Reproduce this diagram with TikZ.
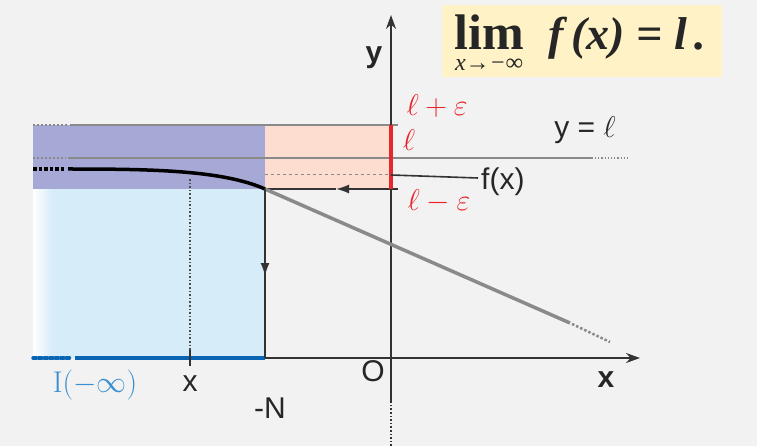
\documentclass[tikz,border=0pt]{standalone}
\usepackage{fix-cm}
\usepackage{fontspec}
\setsansfont{Liberation Sans}
\newfontfamily\timesfont{Liberation Serif}
\usepackage{tikz}
\usetikzlibrary{positioning, arrows.meta, calc}
\definecolor{bgray}{HTML}{F2F2F2}
\definecolor{band}{HTML}{A6A8D6}
\definecolor{peach}{HTML}{FCDDD0}
\definecolor{sky}{HTML}{D7ECF9}
\definecolor{iblue}{HTML}{0A64B4}
\definecolor{lblue}{HTML}{3A8FD0}
\definecolor{epsred}{HTML}{E8262C}
\definecolor{curvegray}{HTML}{8A8A8A}
\definecolor{boxyellow}{HTML}{FFF2C6}

\begin{document}
\begin{tikzpicture}[x=1pt, y=-1pt,
  axis/.style={draw=black!80, line width=1.6pt},
  guide/.style={draw=curvegray, line width=2pt},
  lbl/.style={font=\fontsize{30}{32}\selectfont\sffamily, text=black!85, inner sep=0pt},
  red lbl/.style={font=\fontsize{30}{32}\selectfont, text=epsred, inner sep=0pt},
  midtip/.style={-{Latex[length=13pt, width=9pt]}, axis},
  formula/.style={inner sep=0pt, text=black!85, font=\fontsize{50}{54}\selectfont\timesfont\bfseries}
]
  \useasboundingbox (0,0) rectangle (757,446);
  \fill[bgray] (0,0) rectangle (757,446);

  % points
  \coordinate (O)   at (391,358);
  \coordinate (N)   at (265,358);
  \coordinate (C)   at (265,189);
  \coordinate (top) at (391,125);
  \coordinate (bot) at (391,189);

  % regions
  \fill[sky]  (33,189) rectangle (C);
  \shade[left color=white, right color=sky] (33,189) rectangle (52,358);
  \fill[sky]  (52,189) rectangle (N);
  \fill[band] (33,125) rectangle (C);
  \fill[peach] (265,125) rectangle (bot);

  % band lines
  \draw[guide, dotted] (33,125) -- (68,125);
  \draw[guide] (70,125) -- (398,125);
  \draw[guide, dotted] (33,158) -- (66,158);
  \draw[guide] (68,158) -- (593,158);
  \draw[guide, line width=1.2pt, dotted] (595,158) -- (630,158);
  \draw[curvegray, dashed, line width=1pt] (265,175) -- (391,175);
  \draw[axis] (398,189) -- (340,189);
  \draw[midtip] (360,189) -- (336,189);
  \draw[axis] (336,189) -- (C);

  % axes
  \draw[axis, dotted] (391,446) -- (391,402);
  \draw[axis, -{Stealth[length=14pt, width=10pt]}] (391,402) -- (391,15);
  \draw[axis, -{Stealth[length=14pt, width=10pt]}] (N) -- (640,358);
  \draw[iblue, line width=3.5pt] (75,358) -- (N);
  \draw[iblue, line width=3.5pt, dotted, line cap=round] (33,358) -- (70,358);

  % function
  \draw[curvegray, line width=3.5pt] (C) -- (570,323);
  \draw[curvegray, line width=2.5pt, dotted] (572,324) -- (610,342);
  \draw[black, line width=3.5pt, dotted] (33,169) -- (64,169);
  \draw[black, line width=3.5pt] (68,169) .. controls (150,169) and (222,170) .. (C);

  % vertical guides
  \draw[axis] (C) -- (N);
  \draw[midtip] (265,250) -- (265,276);
  \draw[black!70, dotted, line width=1.6pt] (190,179) -- (190,352);
  \draw[black!80, line width=2pt] (190,350) -- (190,366);
  \draw[epsred, line width=4.5pt] (top) -- (bot);
  \draw[black!80, line width=1.6pt] (391,175) -- (478,178);

  % labels
  \node[lbl, font=\fontsize{30}{32}\selectfont\sffamily\bfseries] (ylab) at (374,58) {y};
  \node[lbl, font=\fontsize{30}{32}\selectfont\sffamily\bfseries] (xlab) at (606,380) {x};
  \node[lbl] (olab) at (373,371) {O};
  \node[lbl] (nlab) at (270,408) {-N};
  \node[lbl] (xpt)  at (190,384) {x};
  \node[lbl, text=lblue, font=\fontsize{30}{32}\selectfont] (ilab) at (95,385) {I$(-\infty)$};
  \node[lbl, anchor=west] (fx) at (481,182) {f(x)};
  \node[lbl] (yl) at (585,130) {y = $\ell$};
  \node[red lbl] (lpe) at (437,106) {$\ell+\varepsilon$};
  \node[red lbl] (lab) at (409,140) {$\ell$};
  \node[red lbl] (lme) at (439,201) {$\ell-\varepsilon$};

  % formula
  \fill[boxyellow] (442,5) rectangle (722,77);
  \node[formula, anchor=base] (limword) at (489,50) {lim};
  \node[formula, font=\fontsize{46}{50}\selectfont\timesfont\bfseries, anchor=base west] (fxeq) at (548,50) {\itshape f\,(x) = l\,.};
  \node[formula, font=\fontsize{24}{26}\selectfont\timesfont\itshape, below=9pt of limword] (limsub) {x→−∞};
\end{tikzpicture}
\end{document}
